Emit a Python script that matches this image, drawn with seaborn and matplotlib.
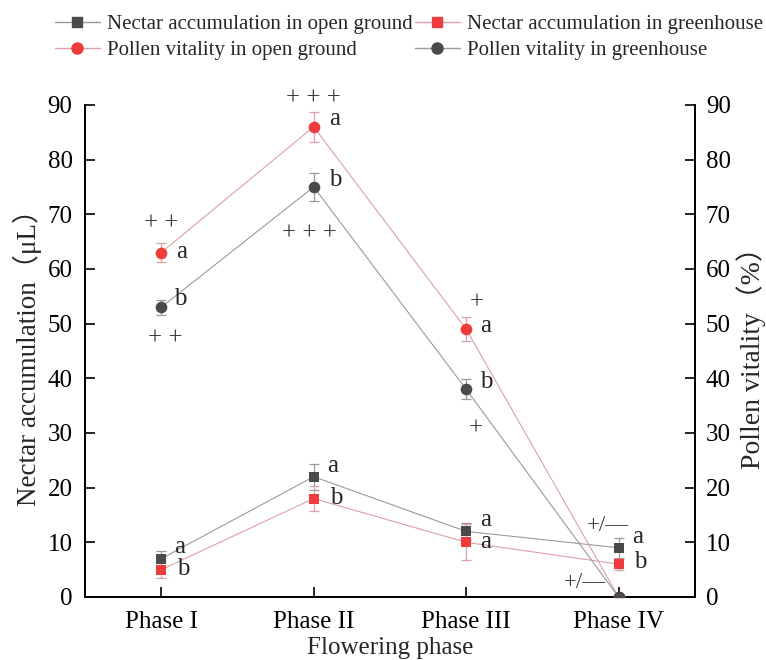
import numpy as np
import pandas as pd
import matplotlib
matplotlib.use("Agg")
import matplotlib.pyplot as plt
import seaborn as sns
from matplotlib.lines import Line2D

sns.set_style("ticks")
plt.rcParams['font.family'] = ['Liberation Serif', 'Noto Sans CJK SC', 'DejaVu Sans']

# ---------------- data ----------------
phases = ["Phase I", "Phase II", "Phase III", "Phase IV"]
nectar_open = [7, 22, 12, 9]
nectar_open_err = [1.5, 2.4, 1.5, 1.8]
nectar_green = [5, 18, 10, 6]
nectar_green_err = [1.6, 2.3, 3.3, 1.0]
pollen_open = [63, 86, 49, 0]
pollen_open_err = [1.8, 2.7, 2.2, 0]
pollen_green = [53, 75, 38, 0]
pollen_green_err = [1.4, 2.6, 1.8, 0]

nectar_open_letters = ["a", "a", "a", "a"]
nectar_green_letters = ["b", "b", "a", "b"]
pollen_open_letters = ["a", "a", "a"]
pollen_green_letters = ["b", "b", "b"]

pollen_open_signs = ["+ +", "+ + +", "+"]
pollen_green_signs = ["+ +", "+ + +", "+", "+/\u2014"]
nectar_sign_iv = "+/\u2014"

# ---------------- style ----------------
DARK = "#4a4a4a"
RED = "#ee3b3b"
DARK_LINE = "#9a9a9a"
RED_LINE = "#dba0a8"
SIGN = "#3c3c3c"

fig = plt.figure(figsize=(7.66, 6.6), dpi=100)
ax = fig.add_axes([0.111, 0.0955, 0.796, 0.7455])
ax2 = ax.twinx()

x = np.arange(len(phases))

def draw(axis, vals, errs, color, lcolor, marker, ms):
    df = pd.DataFrame({"phase": phases, "value": vals})
    axis.errorbar(x, vals, yerr=errs, fmt="none", ecolor=lcolor, elinewidth=0.9,
                  capsize=3.6, capthick=0.9, zorder=2, clip_on=False)
    sns.lineplot(data=df, x="phase", y="value", ax=axis, color=lcolor, lw=0.8,
                 sort=False, zorder=3, legend=False)
    sns.scatterplot(data=df, x="phase", y="value", ax=axis, color=color, marker=marker,
                    s=ms ** 2, edgecolor=color, linewidth=0, zorder=4, legend=False)

draw(ax, nectar_open, nectar_open_err, DARK, DARK_LINE, "s", 7.6)
draw(ax, nectar_green, nectar_green_err, RED, RED_LINE, "s", 7.6)
draw(ax2, pollen_open, pollen_open_err, RED, RED_LINE, "o", 8.4)
draw(ax2, pollen_green, pollen_green_err, DARK, DARK_LINE, "o", 8.4)

for a in (ax, ax2):
    a.set_xlim(-0.5, 3.5)
    a.set_ylim(0, 90)
    a.set_yticks(np.arange(0, 91, 10))
    a.tick_params(direction="in", length=7, width=1.2, labelsize=18, colors="black")
    a.spines["top"].set_visible(False)
    for s in ("left", "right", "bottom"):
        a.spines[s].set_linewidth(1.4)
        a.spines[s].set_color("black")

ax.set_xticks(x)
ax.set_xticklabels(phases)
ax.tick_params(axis="x", pad=10)
ax.tick_params(axis="y", pad=9)
ax2.tick_params(axis="y", pad=8)
ax.set_xlabel("Flowering phase", fontsize=18, labelpad=3)
ax.set_ylabel("Nectar accumulation\uff08\u03bcL\uff09", fontsize=19.5, labelpad=4)
ax2.set_ylabel("Pollen vitality\uff08%\uff09", fontsize=20, labelpad=4)

# ---------------- annotations (layout offsets) ----------------
fs_letter = 18
n_open_dx = [0.085, 0.09, 0.09, 0.09]
n_open_dy = [1.0, 0.8, 1.0, 0.8]
n_green_dx = [0.105, 0.105, 0.09, 0.10]
n_green_dy = [-1.05, -1.05, -1.0, -0.75]
for i in range(4):
    ax.text(x[i] + n_open_dx[i], nectar_open[i] + n_open_dy[i], nectar_open_letters[i],
            fontsize=fs_letter, va="baseline", ha="left")
    ax.text(x[i] + n_green_dx[i], nectar_green[i] + n_green_dy[i], nectar_green_letters[i],
            fontsize=fs_letter, va="baseline", ha="left")

p_open_dx = [0.10, 0.10, 0.09]
p_open_dy = [-1.0, 0.3, -0.6]
p_green_dx = [0.085, 0.10, 0.09]
p_green_dy = [0.35, 0.1, 0.2]
for i in range(3):
    ax2.text(x[i] + p_open_dx[i], pollen_open[i] + p_open_dy[i], pollen_open_letters[i],
             fontsize=fs_letter, va="baseline", ha="left")
    ax2.text(x[i] + p_green_dx[i], pollen_green[i] + p_green_dy[i], pollen_green_letters[i],
             fontsize=fs_letter, va="baseline", ha="left")

fs_sign = 18
open_sign_dx = [0.0, 0.0, 0.07]
open_sign_dy = [4.3, 4.2, 3.7]
green_sign_dx = [0.026, -0.03, 0.065, -0.22]
green_sign_dy = [-6.7, -9.5, -8.2, 1.6]
for i in range(3):
    ax2.text(x[i] + open_sign_dx[i], pollen_open[i] + open_sign_dy[i], pollen_open_signs[i],
             fontsize=fs_sign, ha="center", va="baseline", color=SIGN)
for i in range(4):
    ax2.text(x[i] + green_sign_dx[i], pollen_green[i] + green_sign_dy[i], pollen_green_signs[i],
             fontsize=16.5 if i == 3 else fs_sign, ha="center", va="baseline", color=SIGN)
ax.text(x[3] - 0.07, nectar_open[3] + 3.0, nectar_sign_iv, fontsize=16.5,
        ha="center", va="baseline", color=SIGN)

# ---------------- legend ----------------
handles = [
    Line2D([], [], color=DARK_LINE, lw=1, marker="s", mfc=DARK, mec=DARK, ms=7),
    Line2D([], [], color=RED_LINE, lw=1, marker="o", mfc=RED, mec=RED, ms=8),
    Line2D([], [], color=RED_LINE, lw=1, marker="s", mfc=RED, mec=RED, ms=7),
    Line2D([], [], color=DARK_LINE, lw=1, marker="o", mfc=DARK, mec=DARK, ms=8),
]
labels = ["Nectar accumulation in open ground", "Pollen vitality in open ground",
          "Nectar accumulation in greenhouse", "Pollen vitality in greenhouse"]
fig.legend(handles, labels, ncol=2, loc="upper left", bbox_to_anchor=(0.0718, 0.978),
           frameon=False, fontsize=15, handlelength=2.16, handletextpad=0.34,
           columnspacing=0.1, labelspacing=0.3, borderpad=0, borderaxespad=0)

fig.savefig("out.png", dpi=100)
